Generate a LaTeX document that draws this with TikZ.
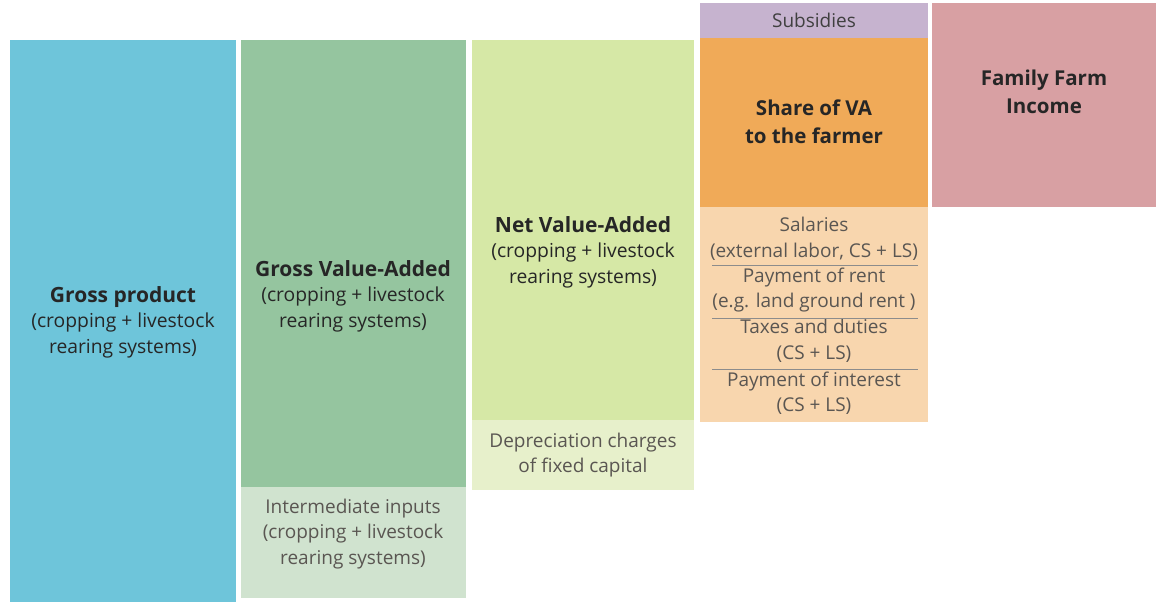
\documentclass[tikz,border=0pt]{standalone}
\usepackage{fontspec}
\setmainfont{Open Sans}
\definecolor{gpblue}{HTML}{6EC5DA}
\definecolor{gvagreen}{HTML}{95C59F}
\definecolor{inpgreen}{HTML}{D0E3CF}
\definecolor{nvagreen}{HTML}{D6E8A6}
\definecolor{depgreen}{HTML}{E7F0CB}
\definecolor{subslilac}{HTML}{C6B3CF}
\definecolor{shareorange}{HTML}{F0AA58}
\definecolor{payorange}{HTML}{F8D6AE}
\definecolor{ffirose}{HTML}{D8A0A3}
\definecolor{greytext}{HTML}{5A5652}
\tikzset{
  block/.style={fill=#1, draw=none, inner sep=0pt, anchor=north west},
  lbl/.style={align=center, inner sep=0pt, text=black!85,
    font=\fontsize{19.3}{25.5}\selectfont},
  sublbl/.style={lbl, text=greytext, font=\fontsize{19}{25.5}\selectfont},
  sepline/.style={draw=black!45, line width=0.7pt}
}
\begin{document}
\begin{tikzpicture}[x=1pt,y=-1pt]
\useasboundingbox[fill=white] (0,0) rectangle (1156,604);
% edit here for the blocks
\node[block=gpblue, minimum width=226pt, minimum height=562pt] (gross) at (10,40) {};
\node[block=gvagreen, minimum width=225pt, minimum height=447pt] (gva) at (241,40) {};
\node[block=inpgreen, minimum width=225pt, minimum height=111pt] (inputs) at (241,487) {};
\node[block=nvagreen, minimum width=222pt, minimum height=380pt] (nva) at (472,40) {};
\node[block=depgreen, minimum width=222pt, minimum height=70pt] (deprec) at (472,420) {};
\node[block=subslilac, minimum width=228pt, minimum height=35pt] (subs) at (700,3) {};
\node[block=shareorange, minimum width=228pt, minimum height=169pt] (share) at (700,38) {};
\node[block=payorange, minimum width=228pt, minimum height=215pt] (payments) at (700,207) {};
\node[block=ffirose, minimum width=224pt, minimum height=204pt] (ffi) at (932,3) {};
% edit here for the main labels
\node[lbl] (grossTxt) at (123,322) {\textbf{\fontsize{21}{25.5}\selectfont Gross product}\\(cropping + livestock\\rearing systems)};
\node[lbl] (gvaTxt) at (353,296) {\textbf{\fontsize{21}{25.5}\selectfont Gross Value-Added}\\(cropping + livestock\\rearing systems)};
\node[lbl] (nvaTxt) at (583,252) {\textbf{\fontsize{21}{25.5}\selectfont Net Value-Added}\\(cropping + livestock\\rearing systems)};
\node[lbl, font=\bfseries\fontsize{20.5}{28}\selectfont] (shareTxt) at (814,122) {Share of VA\\to the farmer};
\node[lbl, font=\bfseries\fontsize{20.5}{28}\selectfont] (ffiTxt) at (1044,92) {Family Farm\\Income};
% edit here for the lighter labels
\node[sublbl] (inputsTxt) at (353,534) {Intermediate inputs\\(cropping + livestock\\rearing systems)};
\node[sublbl] (deprecTxt) at (583,455) {Depreciation charges\\of fixed capital};
\node[sublbl, text=black!75, font=\fontsize{19}{20}\selectfont] (subsTxt) at (814,20) {Subsidies};
\foreach \y/\t/\n in {239/{Salaries\\(external labor, CS + LS)}/sal,
                      290/{Payment of rent\\(e.g. land ground rent )}/rent,
                      341/{Taxes and duties\\(CS + LS)}/tax,
                      393/{Payment of interest\\(CS + LS)}/int}
  \node[sublbl] (\n) at (814,\y) {\t};
% edit here for the separators
\foreach \y in {265,318,369}
  \draw[sepline] (712,\y) -- (918,\y);
\end{tikzpicture}
\end{document}
